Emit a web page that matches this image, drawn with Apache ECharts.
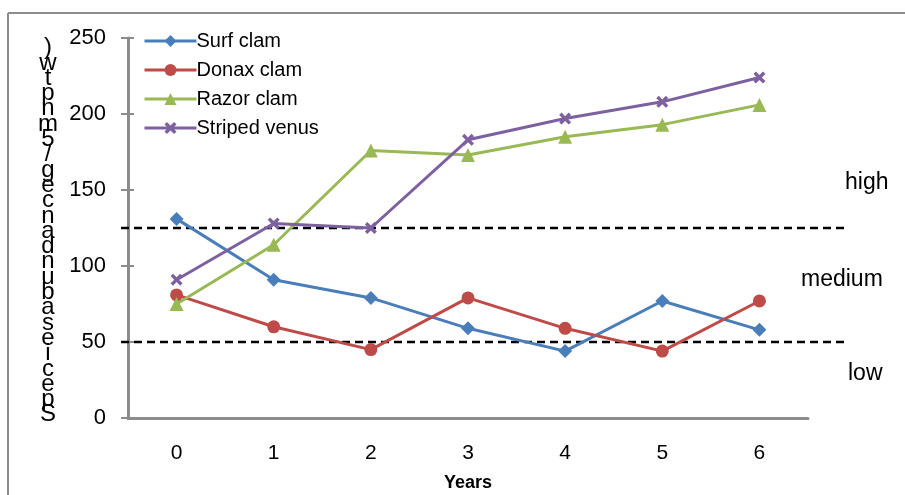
<!DOCTYPE html>
<html>
<head>
<meta charset="utf-8">
<script src="https://cdn.jsdelivr.net/npm/echarts@6/dist/echarts.min.js"></script>
<style>
  html, body { margin: 0; padding: 0; background: #fff; }
  #chart { width: 905px; height: 495px; }
</style>
</head>
<body>
<div id="chart"></div>
<script>
// Years since start of monitoring
const years = ['0', '1', '2', '3', '4', '5', '6'];

// Biomass per species
const surfClam = [131, 91, 79, 59, 44, 77, 58];
const donaxClam = [81, 60, 45, 79, 59, 44, 77];
const razorClam = [75, 114, 176, 173, 185, 193, 206];
const stripedVenus = [91, 128, 125, 183, 197, 208, 224];

// Category thresholds and their labels
const thresholds = [125, 50];
const bandLabels = [
  { text: 'high', value: 155, x: 845 },
  { text: 'medium', value: 91, x: 801 },
  { text: 'low', value: 29, x: 848 }
];

// Y axis title, drawn as stacked characters
const yTitle = [')', 'w', 't', 'p', 'n', 'm', '5', '/', 'g', 'e', 'c', 'n', 'a', 'd', 'n', 'u', 'b', 'a', 's', 'e', 'i', 'c', 'e', 'p', 'S'];

const FONT = 'Liberation Sans, Arial, sans-serif';
const crossPath = 'path://M2,0L5,3L8,0L10,2L7,5L10,8L8,10L5,7L2,10L0,8L3,5L0,2Z';

const chart = echarts.init(document.getElementById('chart'));

function lineSeries(name, data, color, symbol, size) {
  return {
    name: name,
    type: 'line',
    data: data,
    symbol: symbol,
    symbolSize: size,
    lineStyle: { color: color, width: 3 },
    itemStyle: { color: color },
    z: 5
  };
}

chart.setOption({
  animation: false,
  textStyle: { fontFamily: FONT },
  grid: { left: 128, right: 97, top: 38, bottom: 77, containLabel: false, outerBoundsMode: 'none' },
  legend: {
    orient: 'vertical',
    left: 138,
    top: 26,
    itemWidth: 52,
    itemHeight: 15,
    itemGap: 9,
    lineStyle: { width: 3 },
    textStyle: { fontSize: 20, lineHeight: 20, color: '#000', fontFamily: FONT, padding: [0, 0, 0, -5] },
    data: ['Surf clam', 'Donax clam', 'Razor clam', 'Striped venus']
  },
  xAxis: {
    type: 'category',
    data: years,
    boundaryGap: true,
    axisLine: { lineStyle: { color: '#8c8c8c', width: 3 } },
    axisTick: { show: false },
    axisLabel: { fontSize: 21, color: '#000', margin: 25 },
    name: 'Years',
    nameLocation: 'middle',
    nameGap: 56,
    nameTextStyle: { fontSize: 18, fontWeight: 'bold', color: '#000' }
  },
  yAxis: [
    {
      type: 'value',
      min: 0, max: 250, interval: 50,
      axisLine: { show: true, lineStyle: { color: '#8c8c8c', width: 3 } },
      axisTick: { show: true, length: 7, lineStyle: { color: '#8c8c8c', width: 2 } },
      axisLabel: { fontSize: 22, color: '#000', margin: 22 },
      splitLine: { show: false }
    },
    {
      type: 'value',
      position: 'left',
      min: 0, max: 250, interval: 50,
      axisLine: { show: false },
      axisTick: { show: true, inside: true, length: 6, lineStyle: { color: '#8c8c8c', width: 2 } },
      axisLabel: { show: false },
      splitLine: { show: false }
    }
  ],
  series: [
    lineSeries('Surf clam', surfClam, '#4a7ebb', 'diamond', 14),
    lineSeries('Donax clam', donaxClam, '#be4b48', 'circle', 13),
    lineSeries('Razor clam', razorClam, '#98b954', 'triangle', 14),
    lineSeries('Striped venus', stripedVenus, '#7d60a0', crossPath, 12)
  ]
});

// Frame, threshold lines, band labels and y title
function drawOverlay() {
  const graphics = [
    { type: 'line', shape: { x1: 8, y1: 13, x2: 905, y2: 13 }, style: { stroke: '#8c8c8c', lineWidth: 2 } },
    { type: 'line', shape: { x1: 8, y1: 13, x2: 8, y2: 495 }, style: { stroke: '#8c8c8c', lineWidth: 2 } }
  ];
  thresholds.forEach(v => {
    const y = chart.convertToPixel({ yAxisIndex: 0 }, v);
    graphics.push({
      type: 'line',
      shape: { x1: 121, y1: y, x2: 846, y2: y },
      style: { stroke: '#000', lineWidth: 2.5, lineDash: [8, 5] },
      z: 3
    });
  });
  bandLabels.forEach(b => {
    const y = chart.convertToPixel({ yAxisIndex: 0 }, b.value);
    graphics.push({
      type: 'text',
      x: b.x, y: y,
      style: { text: b.text, font: '23px ' + FONT, fill: '#000', align: 'left', verticalAlign: 'middle' }
    });
  });
  graphics.push({
    type: 'text',
    x: 48, y: 40,
    style: {
      text: yTitle.join('\n'),
      font: '24px ' + FONT,
      lineHeight: 15.3,
      fill: '#000',
      align: 'center',
      verticalAlign: 'top'
    }
  });
  chart.setOption({ graphic: graphics });
}
drawOverlay();
</script>
</body>
</html>
